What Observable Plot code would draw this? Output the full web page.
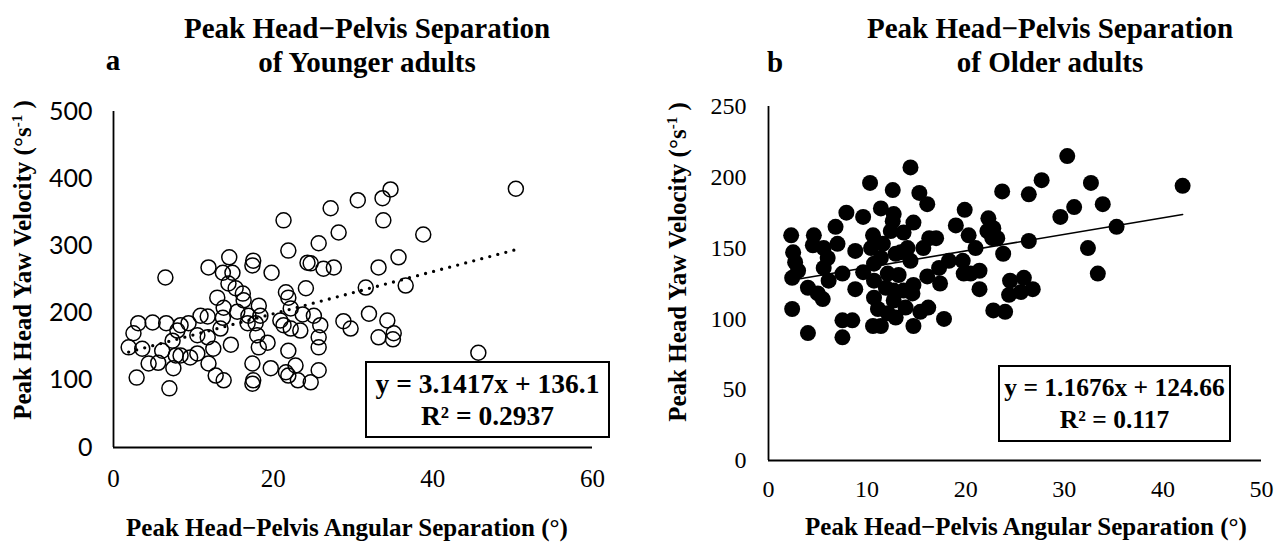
<!DOCTYPE html>
<html><head><meta charset="utf-8">
<script src="https://cdn.jsdelivr.net/npm/d3@7"></script>
<script src="https://cdn.jsdelivr.net/npm/@observablehq/plot@0.6"></script>
<style>
body{margin:0;background:#fff;}
#root{position:relative;width:1285px;height:544px;overflow:hidden;background:#fff;font-family:"Liberation Serif",serif;color:#000;}
.abs{position:absolute;white-space:nowrap;}
.title{font-weight:bold;font-size:29px;text-align:center;line-height:34px;width:560px;}
.letter{font-weight:bold;font-size:29px;line-height:34px;width:40px;text-align:center;}
.xt{font-weight:bold;font-size:25px;line-height:30px;width:600px;text-align:center;}
.yt{font-weight:bold;font-size:25px;line-height:30px;width:420px;height:30px;text-align:center;transform:rotate(-90deg);}
.yt sup{font-size:15px;vertical-align:9px;line-height:0;}
.box{border:2px solid #000;box-sizing:border-box;font-weight:bold;text-align:center;line-height:32px;padding-top:5px;background:#fff;}
.panel{position:absolute;top:0;}
</style>
</head><body>
<div id="root"></div>
<script>
// ---- data ----
const youngerX = [21.9,14.5,17.5,17.4,11.9,13.7,14.9,19.8,6.5,14.4,15.3,16.2,21.6,21.9,13.0,16.3,18.2,13.8,22.2,15.5,10.9,11.8,13.7,16.9,18.4,20.9,9.4,8.4,3.1,4.9,6.6,16.8,17.8,21.3,13.4,22.2,8.0,2.5,10.5,11.8,18.0,7.4,14.7,19.3,1.9,3.6,6.1,12.5,18.2,21.9,8.4,10.5,4.4,5.6,9.6,7.8,11.9,17.4,7.5,12.8,13.8,19.7,21.6,21.9,23.1,17.5,17.4,2.9,7.0,50.4,34.7,33.7,30.6,27.2,21.3,33.8,28.2,38.8,25.7,24.3,24.7,26.3,27.6,35.7,33.2,31.6,36.6,24.1,23.7,25.1,32.0,34.3,28.8,29.7,25.9,23.4,35.1,33.2,35.0,25.7,25.7,45.7,22.8,25.7,24.7];
const youngerY = [293,283,278,271,268,260,260,260,253,244,237,229,231,223,223,219,211,208,207,202,196,195,193,196,196,189,185,182,185,186,185,185,185,182,177,177,174,170,167,164,167,159,153,156,149,147,144,147,149,144,137,140,125,126,134,137,125,125,118,107,100,118,112,107,100,100,95,104,88,385,384,371,368,356,338,338,320,317,304,275,274,266,268,283,268,238,241,237,198,196,199,189,188,177,182,174,170,164,161,164,149,141,122,115,97];

const olderX = [10.3,12.6,7.9,9.6,11.4,12.7,6.8,2.3,4.6,4.5,10.6,12.4,7.0,5.6,8.8,2.5,10.4,6.0,2.7,11.4,12.9,10.7,3.0,5.6,7.5,9.6,2.4,6.1,10.7,12.1,4.0,8.8,5.0,5.5,11.9,12.7,10.7,2.4,11.1,12.1,12.9,7.5,8.5,10.6,11.4,4.0,7.5,
  30.3,14.4,27.7,32.7,42.0,23.7,15.3,16.1,26.4,31.0,33.9,19.9,29.6,12.6,14.7,19.0,22.3,22.8,22.2,13.7,20.3,16.3,17.0,22.7,23.2,35.3,26.4,11.6,15.7,14.1,13.4,21.0,23.8,14.4,18.3,19.7,32.4,17.3,19.8,20.5,21.4,16.1,13.2,33.4,17.4,14.7,13.7,14.6,21.4,24.5,25.9,26.8,25.6,24.4,12.7,13.9,16.2,15.4,22.8,24.0,14.7,17.8];
const olderY = [196,191,175,172,178,174,165,159,159,152,159,162,153,150,148,147,150,143,140,143,146,139,134,136,132,133,129,127,127,132,122,121,118,114,122,120,115,107,107,104,101,99,99,95,95,90,87,
  215,207,198,196,194,190,189,181,188,179,181,177,172,169,168,166,171,164,162,161,159,157,157,157,157,165,155,153,150,150,147,150,146,141,141,141,150,136,132,132,134,130,131,132,125,124,120,118,121,127,129,121,119,117,113,108,108,105,106,105,95,100];

const ticksAX = [0, 20, 40, 60];
const ticksAY = [0, 100, 200, 300, 400, 500];
const ticksBX = [0, 10, 20, 30, 40, 50];
const ticksBY = [0, 50, 100, 150, 200, 250];

const trendA = [3.1417, 136.1];   // slope, intercept (from the chart's equation)
const trendB = [1.1676, 124.66];

const titleA = ["Peak Head\u2212Pelvis Separation", "of Younger adults"];
const titleB = ["Peak Head\u2212Pelvis Separation", "of Older adults"];
const xTitle = "Peak Head\u2212Pelvis Angular Separation (\u00b0)";
const eqA = ["y = 3.1417x + 136.1", "R\u00b2 = 0.2937"];
const eqB = ["y = 1.1676x + 124.66", "R\u00b2 = 0.117"];

// ---- build ----
const younger = youngerX.map((x, i) => ({x, y: youngerY[i]}));
const older = olderX.map((x, i) => ({x, y: olderY[i]}));
const lineA = d3.extent(youngerX).map(x => ({x, y: trendA[0] * x + trendA[1]}));
const lineB = d3.extent(olderX).map(x => ({x, y: trendB[0] * x + trendB[1]}));

const root = document.getElementById("root");

const plotA = Plot.plot({
  width: 640, height: 544,
  marginLeft: 113, marginRight: 48, marginTop: 111, marginBottom: 97,
  x: {domain: [0, 60]}, y: {domain: [0, 500]},
  marks: [
    Plot.axisX({ticks: ticksAX, tickSize: 0, tickPadding: 22, fontSize: 25, fontFamily: "Liberation Serif", label: null}),
    Plot.axisY({ticks: ticksAY, tickSize: 0, tickPadding: 21, fontSize: 25, fontFamily: "Lato", label: null}),
    Plot.ruleX([0], {stroke: "#000", strokeWidth: 1.8}),
    Plot.ruleY([0], {stroke: "#000", strokeWidth: 1.8}),
    Plot.line(lineA, {x: "x", y: "y", stroke: "#000", strokeWidth: 3.3, strokeDasharray: "0 8.3", strokeLinecap: "round"}),
    Plot.dot(younger, {x: "x", y: "y", r: 7.5, stroke: "#000", strokeWidth: 1.5, fill: "none"})
  ]
});

const plotB = Plot.plot({
  width: 645, height: 544,
  marginLeft: 128, marginRight: 24, marginTop: 106, marginBottom: 84,
  x: {domain: [0, 50]}, y: {domain: [0, 250]},
  marks: [
    Plot.axisX({ticks: ticksBX, tickSize: 0, tickPadding: 19, fontSize: 24, fontFamily: "Liberation Serif", label: null}),
    Plot.axisY({ticks: ticksBY, tickSize: 0, tickPadding: 22, fontSize: 24, fontFamily: "Liberation Serif", label: null}),
    Plot.ruleX([0], {stroke: "#000", strokeWidth: 1.8}),
    Plot.ruleY([0], {stroke: "#000", strokeWidth: 1.8}),
    Plot.line(lineB, {x: "x", y: "y", stroke: "#000", strokeWidth: 1.6}),
    Plot.dot(older, {x: "x", y: "y", r: 8, fill: "#000", stroke: "none"})
  ]
});

function panel(el, left) {
  const d = document.createElement("div");
  d.className = "panel";
  d.style.left = left + "px";
  d.appendChild(el);
  root.appendChild(d);
}
panel(plotA, 0);
panel(plotB, 640);

function addDiv(cls, html, css) {
  const d = document.createElement("div");
  d.className = "abs " + cls;
  d.innerHTML = html;
  Object.assign(d.style, css);
  root.appendChild(d);
  return d;
}
// titles
addDiv("title", titleA.join("<br>"), {left: (367 - 280) + "px", top: "11px"});
addDiv("title", titleB.join("<br>"), {left: (1050 - 280) + "px", top: "11px"});
addDiv("letter", "a", {left: (113 - 20) + "px", top: "43px"});
addDiv("letter", "b", {left: (775 - 20) + "px", top: "45px"});
// axis titles
addDiv("xt", xTitle, {left: (347 - 300) + "px", top: "513px"});
addDiv("xt", xTitle, {left: (1026 - 300) + "px", top: "512px"});
const yLab = "Peak Head Yaw Velocity (\u00b0s<sup>-1</sup> )";
addDiv("yt", yLab, {left: (23 - 210) + "px", top: (260 - 15) + "px"});
addDiv("yt", yLab, {left: (678 - 210) + "px", top: (262 - 15) + "px"});
// equation boxes
addDiv("box", eqA.join("<br>"), {left: "365px", top: "361px", width: "245px", height: "77px", fontSize: "27.5px"});
addDiv("box", eqB.join("<br>"), {left: "998px", top: "365px", width: "233px", height: "77px", fontSize: "25.5px"});
</script>
</body></html>
